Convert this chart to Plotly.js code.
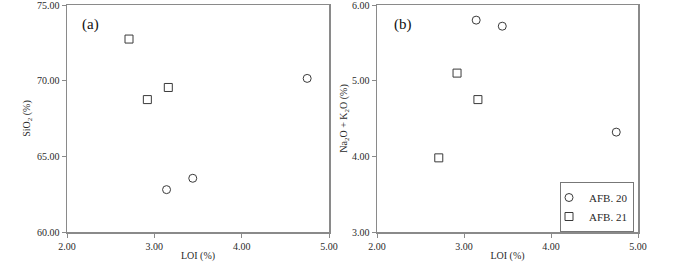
<!DOCTYPE html>
<html>
<head>
<meta charset="utf-8">
<script src="https://cdn.plot.ly/plotly-3.0.1.min.js"></script>
<style>html,body{margin:0;padding:0;background:#fff;}#chart{width:700px;height:262px;}</style>
</head>
<body>
<div id="chart"></div>
<script>
// AFB. 20 (circles)
const afb20_LOI = [3.14, 3.44, 4.75];
const afb20_SiO2 = [62.80, 63.55, 70.15];
const afb20_Alk = [5.80, 5.72, 4.32];
// AFB. 21 (squares)
const afb21_LOI = [2.71, 2.92, 3.16];
const afb21_SiO2 = [72.75, 68.75, 69.55];
const afb21_Alk = [3.98, 5.10, 4.75];
const seriesNames = ["AFB. 20", "AFB. 21"];

const fam = "Liberation Serif, Times New Roman, serif";
const font = {family: fam, size: 10, color: "#2a2a2a"};
const mk = (sym) => ({symbol: sym, size: 8, color: "#ffffff", line: {color: "#3a3a3a", width: 1}});

const traces = [
  {x: afb20_LOI, y: afb20_SiO2, mode: "markers", type: "scatter", xaxis: "x", yaxis: "y", marker: mk("circle"), name: seriesNames[0], showlegend: false},
  {x: afb21_LOI, y: afb21_SiO2, mode: "markers", type: "scatter", xaxis: "x", yaxis: "y", marker: mk("square"), name: seriesNames[1], showlegend: false},
  {x: afb20_LOI, y: afb20_Alk, mode: "markers", type: "scatter", xaxis: "x2", yaxis: "y2", marker: mk("circle"), name: seriesNames[0]},
  {x: afb21_LOI, y: afb21_Alk, mode: "markers", type: "scatter", xaxis: "x2", yaxis: "y2", marker: mk("square"), name: seriesNames[1]}
];

const axBase = {
  showline: true, mirror: true, linecolor: "#8a8a8a", linewidth: 1.5,
  ticks: "outside", ticklen: 4, tickcolor: "#8a8a8a", tickwidth: 1,
  showgrid: false, zeroline: false, tickformat: ".2f", fixedrange: true,
  ticklabeloverflow: "allow", tickfont: font
};
// paper spans y 4..262 px
const yDom = [(262 - 232) / 258, (262 - 5) / 258];

const layout = {
  width: 700, height: 262,
  margin: {l: 0, r: 0, t: 4, b: 0},
  paper_bgcolor: "#fff", plot_bgcolor: "#fff",
  font: font,
  xaxis: Object.assign({}, axBase, {domain: [67/700, 329/700], range: [2, 5], dtick: 1, anchor: "y",
    title: {text: "LOI (%)", font: font, standoff: 3}}),
  yaxis: Object.assign({}, axBase, {domain: yDom, range: [60, 75], dtick: 5, anchor: "x",
    title: {text: "SiO<sub>2</sub> (%)", font: font, standoff: 4}}),
  xaxis2: Object.assign({}, axBase, {domain: [377/700, 638/700], range: [2, 5], dtick: 1, anchor: "y2",
    title: {text: "LOI (%)", font: font, standoff: 3}}),
  yaxis2: Object.assign({}, axBase, {domain: yDom, range: [3, 6], dtick: 1, anchor: "x2",
    title: {text: "Na<sub>2</sub>O + K<sub>2</sub>O (%)", font: font, standoff: 2}}),
  showlegend: true,
  legend: {x: 634/700, y: (262 - 182) / 258, xanchor: "right", yanchor: "top",
    bordercolor: "#777", borderwidth: 1, bgcolor: "#fff",
    font: {family: fam, size: 11, color: "#2a2a2a"}, itemwidth: 30, indentation: -12, tracegroupgap: 0},
  annotations: [
    {text: "(a)", xref: "x domain", yref: "y domain", x: 0.09, y: 0.915, xanchor: "center", yanchor: "middle", showarrow: false,
      font: {family: fam, size: 15, color: "#111"}},
    {text: "(b)", xref: "x2 domain", yref: "y2 domain", x: 0.1, y: 0.915, xanchor: "center", yanchor: "middle", showarrow: false,
      font: {family: fam, size: 15, color: "#111"}}
  ]
};

Plotly.newPlot("chart", traces, layout, {staticPlot: true, displayModeBar: false});
</script>
</body>
</html>
